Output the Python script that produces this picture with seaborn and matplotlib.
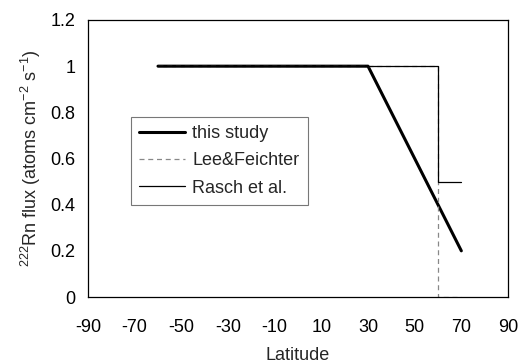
import matplotlib
matplotlib.use("Agg")
import matplotlib.pyplot as plt
import seaborn as sns
import pandas as pd

sns.set_style("white")
plt.rcParams['font.family'] = ['Liberation Sans', 'DejaVu Sans']
plt.rcParams['mathtext.fontset'] = 'custom'
plt.rcParams['mathtext.rm'] = 'Liberation Sans'
plt.rcParams['mathtext.it'] = 'Liberation Sans'

this_lat = [-60, 30, 70]
this_flux = [1.0, 1.0, 0.2]
lee_lat = [-60, 60, 60, 70]
lee_flux = [1.0, 1.0, 0.0, 0.0]
rasch_lat = [-60, 60, 60, 70]
rasch_flux = [1.0, 1.0, 0.5, 0.5]
xticks = [-90, -70, -50, -30, -10, 10, 30, 50, 70, 90]
yticks = [0, 0.2, 0.4, 0.6, 0.8, 1, 1.2]
yticklabels = ["0", "0.2", "0.4", "0.6", "0.8", "1", "1.2"]

fig = plt.figure(figsize=(5.2, 3.63), dpi=100)
ax = fig.add_axes([88/520, 1-297/363, 420/520, 277/363])

sns.lineplot(x=this_lat, y=this_flux, sort=False, estimator=None, ax=ax, color='black', lw=2.2, label='this study')
sns.lineplot(x=lee_lat, y=lee_flux, sort=False, estimator=None, ax=ax, color='#888888', lw=0.9, ls=(0, (4, 3)), label='Lee&Feichter')
sns.lineplot(x=rasch_lat, y=rasch_flux, sort=False, estimator=None, ax=ax, color='black', lw=0.9, label='Rasch et al.')

ax.set_xlim(-90, 90)
ax.set_ylim(0, 1.2)
ax.set_xticks(xticks)
ax.set_xticklabels([str(v) for v in xticks])
ax.set_yticks(yticks)
ax.set_yticklabels(yticklabels)
ax.tick_params(axis='both', direction='out', length=4, width=0.8, labelsize=13, colors='black', pad=5)
ax.tick_params(axis='x', pad=12)
for s in ax.spines.values():
    s.set_color('black')
    s.set_linewidth(0.9)
    s.set_visible(True)

ax.set_xlabel('Latitude', fontsize=13, labelpad=8)
ax.set_ylabel('$^{222}$Rn flux (atoms cm$^{-2}$ s$^{-1}$)', fontsize=13, labelpad=5)

leg = ax.legend(loc='upper left', bbox_to_anchor=((131-88)/420, (297-117)/277),
                frameon=True, fancybox=False, edgecolor='#555555', fontsize=13,
                handlelength=2.55, handletextpad=0.4, borderpad=0.45, labelspacing=0.57,
                borderaxespad=0)
leg.get_frame().set_linewidth(0.8)

fig.savefig('out.png', dpi=100)
